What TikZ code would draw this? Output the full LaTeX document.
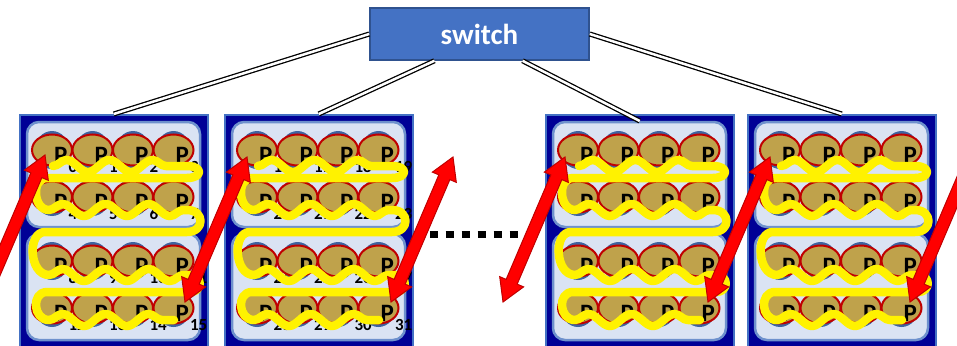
\documentclass[tikz,border=0pt]{standalone}
\usepackage{fontspec}
\setmainfont{Carlito}
\usetikzlibrary{calc,decorations.pathmorphing}

\definecolor{rackblue}{RGB}{0,0,150}
\definecolor{rackedge}{RGB}{68,114,196}
\definecolor{trayfill}{RGB}{218,227,243}
\definecolor{trayedge}{RGB}{110,145,205}
\definecolor{coretan}{RGB}{191,162,75}
\definecolor{corered}{RGB}{192,0,0}
\definecolor{coreblue}{RGB}{62,100,160}
\definecolor{switchfill}{RGB}{68,114,196}
\definecolor{switchedge}{RGB}{47,82,143}

\tikzset{
  switchbox/.style={draw=switchedge, fill=switchfill, line width=1.5pt, minimum width=219pt, minimum height=52pt, text=white, font=\fontsize{29}{29}\selectfont\bfseries},
  rack/.style={draw=rackedge, fill=rackblue, line width=1.5pt, minimum width=188pt, minimum height=240pt, inner sep=0pt, anchor=north west},
  tray/.style={draw=trayedge, fill=trayfill, line width=2.5pt, rounded corners=12pt},
  core/.style={draw=corered, fill=coretan, line width=2pt},
  plabel/.style={inner sep=0pt, anchor=base west, font=\fontsize{25}{25}\selectfont\bfseries},
  squiggle/.style={yellow, line width=8.5pt, line cap=round, line join=round},
  wave/.style={decoration={snake, segment length=43pt, amplitude=6pt}},
  link/.style={draw=black, double=white, double distance=2.5pt, line width=1.3pt},
  gapline/.style={line width=7pt, dash pattern=on 8pt off 8pt},
  redarr/.style={fill=red, draw=corered, line width=1pt, line join=miter}
}

% block arrow with a head at both ends
\newcommand{\redarrow}[2]{%
  \filldraw[redarr] (#1)
    -- ($(#1)!22pt!(#2)!13pt!90:(#2)$)
    -- ($(#1)!22pt!(#2)!6pt!90:(#2)$)
    -- ($(#2)!22pt!(#1)!6pt!-90:(#1)$)
    -- ($(#2)!22pt!(#1)!13pt!-90:(#1)$)
    -- (#2)
    -- ($(#2)!22pt!(#1)!13pt!90:(#1)$)
    -- ($(#2)!22pt!(#1)!6pt!90:(#1)$)
    -- ($(#1)!22pt!(#2)!6pt!-90:(#2)$)
    -- ($(#1)!22pt!(#2)!13pt!-90:(#2)$)
    -- cycle;}

\begin{document}
\begin{tikzpicture}[x=1pt,y=-1pt]
\path[use as bounding box] (0,0) rectangle (957,345);
\clip (0,0) rectangle (957,345);

\node[switchbox] (switch) at (479.5,34) {switch};

% racks
\foreach \rx/\nm/\first in {19/1/0,224/2/16,545/3/-1,747/4/-1}{
  \node[rack] (rack\nm) at (\rx,114) {};
  \begin{scope}[shift={(\rx,114)}]
    \draw[tray] (8,8) rectangle (181,113);
    \draw[tray] (8,120) rectangle (181,226);
    \foreach \r/\cy in {0/36,1/83,2/147,3/194}{
      \foreach \c in {0,...,3}{
        \pgfmathsetmacro\cx{33+40.5*\c}
        \pgfmathtruncatemacro\idx{\first+4*\r+\c}
        \fill[coreblue] (\cx,\cy) ellipse [x radius=17pt, y radius=19pt];
        \filldraw[core] (\cx,\cy) ellipse [x radius=20pt, y radius=15.5pt];
        \ifnum\first<0
          \node[plabel] (p\nm-\r-\c) at (\cx+2,\cy+13) {P};
        \else
          \node[plabel] (p\nm-\r-\c) at (\cx+2,\cy+13) {P\hspace{1pt}\raisebox{-9pt}{\fontsize{17}{17}\selectfont\idx}};
        \fi
      }
    }
    \draw[squiggle] (34,52)
      decorate[wave] {-- (168,52)}
      .. controls (184,52) and (184,64) .. (168,64) -- (28,64)
      .. controls (12,64) and (14,96) .. (30,96)
      decorate[wave] {-- (168,96)}
      .. controls (186,96) and (186,118) .. (168,118) -- (26,118)
      .. controls (8,118) and (10,161) .. (30,161)
      decorate[wave] {-- (171,161)}
      .. controls (184,161) and (184,178) .. (171,178) -- (28,178)
      .. controls (12,178) and (14,206) .. (30,206)
      decorate[wave] {-- (155,206)};
  \end{scope}
}

% links to the switch
\draw[link] (switch.west) -- (rack1.north);
\draw[link] ([xshift=-45pt]switch.south) -- (rack2.north);
\draw[link] ([xshift=43pt]switch.south) -- ([yshift=-7pt]rack3.north);
\draw[link] (switch.east) -- (rack4.north);

\draw[gapline] (rack2.east) -- ([xshift=-14pt]rack3.west);

% red arrows
\coordinate (s1) at (-40,354); \coordinate (e1) at (45,155);
\coordinate (s2) at (185,302); \coordinate (e2) at (247,157);
\coordinate (s3) at (391,302); \coordinate (e3) at (453,157);
\coordinate (s4) at (503,302); \coordinate (e4) at (565,157);
\coordinate (s5) at (708,302); \coordinate (e5) at (770,157);
\coordinate (s6) at (910,302); \coordinate (e6) at (995,103);
\foreach \k in {1,...,6}{\redarrow{s\k}{e\k}}
\end{tikzpicture}
\end{document}
